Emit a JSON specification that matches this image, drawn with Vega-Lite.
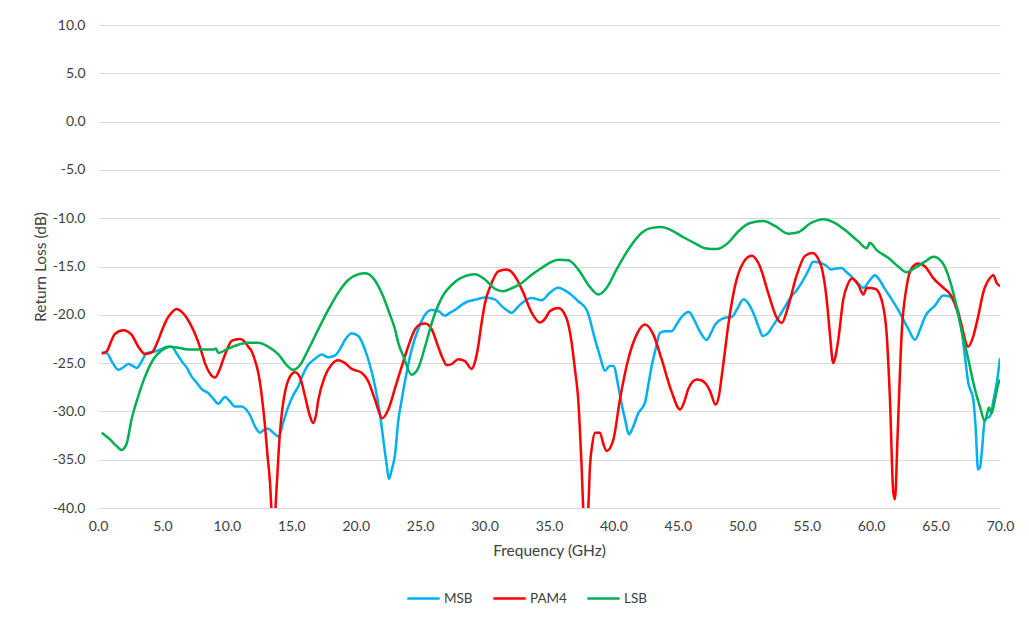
{
  "$schema": "https://vega.github.io/schema/vega-lite/v6.json",
  "width": 902,
  "height": 483,
  "autosize": {"type": "none"},
  "padding": {"left": 98, "top": 25, "right": 29, "bottom": 110},
  "background": "white",
  "config": {
    "view": {"stroke": null},
    "font": "Lato",
    "axis": {"labelFont": "Lato", "titleFont": "Lato", "labelColor": "#404040", "titleColor": "#404040", "titleFontWeight": "normal", "labelFlush": false},
    "legend": {"labelFont": "Lato", "labelColor": "#404040"}
  },
  "datasets": {
    "MSB": [{"f":0.3,"rl":-23.9},{"f":0.7,"rl":-24.0},{"f":1.1,"rl":-24.9},{"f":1.58,"rl":-25.7},{"f":2.0,"rl":-25.4},{"f":2.35,"rl":-25.1},{"f":2.7,"rl":-25.3},{"f":3.0,"rl":-25.5},{"f":3.4,"rl":-24.8},{"f":3.78,"rl":-23.95},{"f":4.42,"rl":-23.8},{"f":5.0,"rl":-23.5},{"f":5.33,"rl":-23.3},{"f":5.72,"rl":-23.3},{"f":6.1,"rl":-24.0},{"f":6.5,"rl":-24.8},{"f":6.9,"rl":-25.5},{"f":7.27,"rl":-26.4},{"f":7.7,"rl":-27.1},{"f":8.05,"rl":-27.7},{"f":8.56,"rl":-28.1},{"f":8.95,"rl":-28.7},{"f":9.34,"rl":-29.2},{"f":9.86,"rl":-28.5},{"f":10.2,"rl":-28.9},{"f":10.63,"rl":-29.5},{"f":11.15,"rl":-29.5},{"f":11.5,"rl":-29.8},{"f":11.8,"rl":-30.4},{"f":12.2,"rl":-31.6},{"f":12.57,"rl":-32.2},{"f":12.9,"rl":-31.9},{"f":13.2,"rl":-31.8},{"f":13.6,"rl":-32.2},{"f":14.0,"rl":-32.6},{"f":14.4,"rl":-31.0},{"f":14.77,"rl":-29.5},{"f":15.16,"rl":-28.3},{"f":15.55,"rl":-27.4},{"f":15.9,"rl":-26.2},{"f":16.3,"rl":-25.2},{"f":16.8,"rl":-24.6},{"f":17.36,"rl":-24.1},{"f":17.87,"rl":-24.4},{"f":18.4,"rl":-24.2},{"f":18.8,"rl":-23.5},{"f":19.17,"rl":-22.6},{"f":19.69,"rl":-21.9},{"f":20.2,"rl":-22.2},{"f":20.72,"rl":-23.6},{"f":21.1,"rl":-25.2},{"f":21.5,"rl":-27.4},{"f":21.85,"rl":-30.0},{"f":22.14,"rl":-32.9},{"f":22.4,"rl":-35.5},{"f":22.58,"rl":-37.0},{"f":22.8,"rl":-36.0},{"f":23.05,"rl":-34.5},{"f":23.3,"rl":-31.0},{"f":23.57,"rl":-28.8},{"f":23.95,"rl":-26.0},{"f":24.34,"rl":-23.6},{"f":24.85,"rl":-21.5},{"f":25.38,"rl":-20.0},{"f":25.9,"rl":-19.5},{"f":26.4,"rl":-19.6},{"f":26.93,"rl":-20.1},{"f":27.3,"rl":-19.8},{"f":27.7,"rl":-19.5},{"f":28.2,"rl":-19.0},{"f":28.74,"rl":-18.6},{"f":29.4,"rl":-18.4},{"f":30.03,"rl":-18.2},{"f":30.8,"rl":-18.4},{"f":31.33,"rl":-19.1},{"f":31.7,"rl":-19.5},{"f":32.1,"rl":-19.8},{"f":32.5,"rl":-19.3},{"f":32.88,"rl":-18.8},{"f":33.66,"rl":-18.25},{"f":34.43,"rl":-18.5},{"f":35.08,"rl":-17.7},{"f":35.7,"rl":-17.2},{"f":36.5,"rl":-17.7},{"f":37.27,"rl":-18.6},{"f":37.93,"rl":-19.5},{"f":38.2,"rl":-20.6},{"f":38.44,"rl":-21.9},{"f":38.96,"rl":-24.3},{"f":39.35,"rl":-25.8},{"f":39.7,"rl":-25.3},{"f":40.0,"rl":-25.3},{"f":40.38,"rl":-27.4},{"f":40.65,"rl":-29.3},{"f":40.9,"rl":-30.8},{"f":41.2,"rl":-32.4},{"f":41.5,"rl":-31.7},{"f":41.93,"rl":-30.2},{"f":42.45,"rl":-29.1},{"f":42.7,"rl":-27.3},{"f":42.97,"rl":-25.3},{"f":43.3,"rl":-23.4},{"f":43.6,"rl":-21.9},{"f":44.0,"rl":-21.7},{"f":44.5,"rl":-21.7},{"f":44.9,"rl":-21.0},{"f":45.3,"rl":-20.2},{"f":45.86,"rl":-19.7},{"f":46.3,"rl":-20.6},{"f":46.7,"rl":-21.7},{"f":47.24,"rl":-22.6},{"f":47.6,"rl":-21.8},{"f":47.9,"rl":-21.0},{"f":48.66,"rl":-20.3},{"f":49.2,"rl":-20.2},{"f":49.6,"rl":-19.4},{"f":50.1,"rl":-18.4},{"f":50.6,"rl":-19.1},{"f":50.95,"rl":-20.1},{"f":51.25,"rl":-21.2},{"f":51.6,"rl":-22.2},{"f":52.0,"rl":-21.9},{"f":52.4,"rl":-21.1},{"f":52.8,"rl":-20.3},{"f":53.3,"rl":-19.2},{"f":53.8,"rl":-18.1},{"f":54.2,"rl":-17.5},{"f":54.6,"rl":-16.7},{"f":55.1,"rl":-15.5},{"f":55.5,"rl":-14.5},{"f":56.0,"rl":-14.6},{"f":56.5,"rl":-14.9},{"f":56.9,"rl":-15.3},{"f":57.3,"rl":-15.2},{"f":57.7,"rl":-15.15},{"f":58.1,"rl":-15.6},{"f":58.36,"rl":-15.9},{"f":58.75,"rl":-16.4},{"f":59.4,"rl":-17.2},{"f":59.85,"rl":-16.5},{"f":60.3,"rl":-15.9},{"f":60.7,"rl":-16.5},{"f":61.1,"rl":-17.4},{"f":61.6,"rl":-18.4},{"f":62.1,"rl":-19.5},{"f":62.5,"rl":-20.5},{"f":62.9,"rl":-21.5},{"f":63.4,"rl":-22.6},{"f":63.8,"rl":-21.5},{"f":64.18,"rl":-20.2},{"f":64.95,"rl":-19.05},{"f":65.6,"rl":-18.0},{"f":66.1,"rl":-18.1},{"f":66.5,"rl":-18.8},{"f":66.8,"rl":-19.8},{"f":67.15,"rl":-22.9},{"f":67.54,"rl":-27.05},{"f":67.93,"rl":-28.8},{"f":68.1,"rl":-31.5},{"f":68.3,"rl":-36.0},{"f":68.45,"rl":-35.8},{"f":68.58,"rl":-34.3},{"f":68.83,"rl":-30.85},{"f":69.22,"rl":-30.5},{"f":69.5,"rl":-28.8},{"f":69.82,"rl":-26.4},{"f":70.0,"rl":-24.5}],
    "PAM4": [{"f":0.29,"rl":-24.0},{"f":0.67,"rl":-23.8},{"f":1.0,"rl":-22.8},{"f":1.3,"rl":-22.0},{"f":1.97,"rl":-21.6},{"f":2.6,"rl":-22.05},{"f":3.13,"rl":-23.3},{"f":3.65,"rl":-24.05},{"f":4.17,"rl":-23.9},{"f":4.68,"rl":-22.6},{"f":5.0,"rl":-21.5},{"f":5.33,"rl":-20.5},{"f":5.7,"rl":-19.8},{"f":6.1,"rl":-19.4},{"f":6.5,"rl":-19.7},{"f":6.88,"rl":-20.3},{"f":7.3,"rl":-21.3},{"f":7.66,"rl":-22.4},{"f":8.0,"rl":-23.7},{"f":8.3,"rl":-25.0},{"f":8.7,"rl":-26.1},{"f":9.08,"rl":-26.5},{"f":9.4,"rl":-25.8},{"f":9.72,"rl":-24.6},{"f":10.05,"rl":-23.5},{"f":10.37,"rl":-22.7},{"f":11.0,"rl":-22.5},{"f":11.4,"rl":-22.8},{"f":11.66,"rl":-23.3},{"f":11.93,"rl":-23.8},{"f":12.2,"rl":-24.8},{"f":12.44,"rl":-26.0},{"f":12.7,"rl":-28.3},{"f":12.96,"rl":-31.5},{"f":13.15,"rl":-34.5},{"f":13.35,"rl":-37.4},{"f":13.5,"rl":-41.0},{"f":13.65,"rl":-42.0},{"f":13.75,"rl":-40.5},{"f":13.87,"rl":-37.7},{"f":14.12,"rl":-32.2},{"f":14.3,"rl":-29.8},{"f":14.5,"rl":-28.1},{"f":14.9,"rl":-26.4},{"f":15.3,"rl":-25.95},{"f":15.68,"rl":-26.5},{"f":16.06,"rl":-28.4},{"f":16.45,"rl":-30.5},{"f":16.7,"rl":-31.2},{"f":16.9,"rl":-30.5},{"f":17.1,"rl":-28.8},{"f":17.6,"rl":-26.4},{"f":18.1,"rl":-25.2},{"f":18.65,"rl":-24.7},{"f":19.17,"rl":-25.0},{"f":19.69,"rl":-25.6},{"f":20.46,"rl":-26.0},{"f":20.98,"rl":-26.9},{"f":21.5,"rl":-28.8},{"f":22.06,"rl":-30.7},{"f":22.53,"rl":-29.8},{"f":23.05,"rl":-27.6},{"f":23.44,"rl":-25.9},{"f":23.82,"rl":-24.3},{"f":24.2,"rl":-22.8},{"f":24.6,"rl":-21.5},{"f":25.0,"rl":-21.0},{"f":25.38,"rl":-20.9},{"f":25.9,"rl":-21.5},{"f":26.4,"rl":-23.3},{"f":26.75,"rl":-24.5},{"f":27.06,"rl":-25.2},{"f":27.45,"rl":-25.1},{"f":27.96,"rl":-24.6},{"f":28.48,"rl":-24.8},{"f":29.0,"rl":-25.6},{"f":29.25,"rl":-24.9},{"f":29.5,"rl":-23.3},{"f":29.75,"rl":-21.0},{"f":30.03,"rl":-18.8},{"f":30.55,"rl":-16.7},{"f":31.06,"rl":-15.5},{"f":31.7,"rl":-15.3},{"f":32.36,"rl":-16.0},{"f":33.0,"rl":-17.7},{"f":33.66,"rl":-19.8},{"f":34.3,"rl":-20.8},{"f":34.7,"rl":-20.4},{"f":35.08,"rl":-19.6},{"f":35.72,"rl":-19.3},{"f":36.24,"rl":-20.0},{"f":36.5,"rl":-21.0},{"f":36.76,"rl":-22.9},{"f":37.0,"rl":-25.5},{"f":37.27,"rl":-28.8},{"f":37.53,"rl":-35.7},{"f":37.7,"rl":-41.0},{"f":37.9,"rl":-42.0},{"f":38.05,"rl":-40.0},{"f":38.18,"rl":-35.7},{"f":38.35,"rl":-33.5},{"f":38.57,"rl":-32.2},{"f":38.96,"rl":-32.2},{"f":39.2,"rl":-33.3},{"f":39.48,"rl":-34.1},{"f":40.0,"rl":-32.9},{"f":40.5,"rl":-28.8},{"f":41.15,"rl":-24.6},{"f":41.8,"rl":-22.05},{"f":42.45,"rl":-21.0},{"f":43.1,"rl":-22.05},{"f":43.74,"rl":-24.6},{"f":44.5,"rl":-27.9},{"f":45.17,"rl":-29.8},{"f":45.5,"rl":-29.0},{"f":45.8,"rl":-27.7},{"f":46.46,"rl":-26.7},{"f":46.85,"rl":-26.8},{"f":47.2,"rl":-27.2},{"f":47.5,"rl":-27.9},{"f":47.93,"rl":-29.3},{"f":48.2,"rl":-28.3},{"f":48.4,"rl":-26.4},{"f":48.65,"rl":-23.8},{"f":48.9,"rl":-21.2},{"f":49.43,"rl":-17.05},{"f":50.08,"rl":-14.6},{"f":50.73,"rl":-13.9},{"f":51.37,"rl":-15.0},{"f":52.0,"rl":-17.7},{"f":52.67,"rl":-20.3},{"f":53.06,"rl":-20.85},{"f":53.57,"rl":-19.1},{"f":54.2,"rl":-16.0},{"f":54.87,"rl":-13.9},{"f":55.44,"rl":-13.6},{"f":56.03,"rl":-14.6},{"f":56.3,"rl":-16.0},{"f":56.55,"rl":-18.4},{"f":56.8,"rl":-22.0},{"f":57.06,"rl":-25.0},{"f":57.25,"rl":-24.2},{"f":57.45,"rl":-22.6},{"f":57.84,"rl":-18.4},{"f":58.2,"rl":-16.8},{"f":58.5,"rl":-16.25},{"f":59.0,"rl":-16.9},{"f":59.4,"rl":-17.9},{"f":59.66,"rl":-17.2},{"f":60.3,"rl":-17.3},{"f":60.8,"rl":-18.4},{"f":61.2,"rl":-21.9},{"f":61.46,"rl":-28.8},{"f":61.72,"rl":-38.4},{"f":61.85,"rl":-39.1},{"f":62.06,"rl":-32.2},{"f":62.37,"rl":-21.9},{"f":62.76,"rl":-17.05},{"f":63.15,"rl":-15.15},{"f":63.66,"rl":-14.7},{"f":64.18,"rl":-15.0},{"f":64.82,"rl":-16.2},{"f":65.6,"rl":-17.2},{"f":66.25,"rl":-18.1},{"f":66.9,"rl":-20.5},{"f":67.54,"rl":-23.3},{"f":67.93,"rl":-22.2},{"f":68.3,"rl":-20.2},{"f":68.7,"rl":-17.7},{"f":69.22,"rl":-16.2},{"f":69.48,"rl":-15.9},{"f":69.74,"rl":-16.7},{"f":70.0,"rl":-17.05}],
    "LSB": [{"f":0.29,"rl":-32.2},{"f":0.93,"rl":-32.9},{"f":1.45,"rl":-33.6},{"f":1.84,"rl":-34.0},{"f":2.23,"rl":-33.3},{"f":2.6,"rl":-30.85},{"f":3.13,"rl":-28.4},{"f":3.65,"rl":-26.4},{"f":4.3,"rl":-24.6},{"f":4.94,"rl":-23.7},{"f":5.59,"rl":-23.3},{"f":6.23,"rl":-23.4},{"f":7.0,"rl":-23.6},{"f":8.05,"rl":-23.6},{"f":8.95,"rl":-23.6},{"f":9.15,"rl":-23.5},{"f":9.34,"rl":-23.95},{"f":10.1,"rl":-23.5},{"f":11.15,"rl":-23.0},{"f":11.66,"rl":-22.9},{"f":12.44,"rl":-22.9},{"f":13.2,"rl":-23.3},{"f":14.0,"rl":-24.1},{"f":14.64,"rl":-25.2},{"f":15.16,"rl":-25.7},{"f":15.68,"rl":-25.2},{"f":16.32,"rl":-23.6},{"f":17.1,"rl":-21.5},{"f":17.87,"rl":-19.5},{"f":18.65,"rl":-17.7},{"f":19.42,"rl":-16.4},{"f":20.2,"rl":-15.8},{"f":20.72,"rl":-15.7},{"f":21.36,"rl":-16.2},{"f":22.0,"rl":-17.7},{"f":22.66,"rl":-20.0},{"f":23.05,"rl":-21.5},{"f":23.3,"rl":-22.9},{"f":23.7,"rl":-24.3},{"f":24.34,"rl":-26.2},{"f":24.86,"rl":-25.5},{"f":25.38,"rl":-23.3},{"f":25.9,"rl":-20.85},{"f":26.67,"rl":-18.25},{"f":27.7,"rl":-16.6},{"f":28.48,"rl":-16.0},{"f":29.26,"rl":-15.8},{"f":30.03,"rl":-16.35},{"f":30.8,"rl":-17.3},{"f":31.45,"rl":-17.55},{"f":32.2,"rl":-17.2},{"f":32.88,"rl":-16.7},{"f":33.66,"rl":-15.85},{"f":34.43,"rl":-15.15},{"f":35.08,"rl":-14.6},{"f":35.72,"rl":-14.3},{"f":36.5,"rl":-14.35},{"f":37.27,"rl":-15.3},{"f":38.05,"rl":-16.9},{"f":38.83,"rl":-17.9},{"f":39.48,"rl":-17.2},{"f":40.25,"rl":-15.3},{"f":41.15,"rl":-13.25},{"f":42.2,"rl":-11.5},{"f":42.97,"rl":-11.0},{"f":43.74,"rl":-10.9},{"f":44.5,"rl":-11.25},{"f":45.54,"rl":-12.05},{"f":46.33,"rl":-12.6},{"f":47.1,"rl":-13.1},{"f":48.0,"rl":-13.2},{"f":48.9,"rl":-12.55},{"f":49.7,"rl":-11.35},{"f":50.6,"rl":-10.5},{"f":51.63,"rl":-10.3},{"f":52.54,"rl":-10.8},{"f":53.57,"rl":-11.6},{"f":54.35,"rl":-11.45},{"f":55.26,"rl":-10.55},{"f":56.3,"rl":-10.1},{"f":57.2,"rl":-10.5},{"f":58.0,"rl":-11.25},{"f":59.0,"rl":-12.4},{"f":59.66,"rl":-13.1},{"f":59.9,"rl":-12.55},{"f":60.43,"rl":-13.3},{"f":61.33,"rl":-14.1},{"f":62.1,"rl":-15.0},{"f":62.76,"rl":-15.6},{"f":63.4,"rl":-15.15},{"f":64.18,"rl":-14.5},{"f":64.82,"rl":-14.0},{"f":65.47,"rl":-14.5},{"f":66.0,"rl":-16.0},{"f":66.5,"rl":-18.4},{"f":67.0,"rl":-21.5},{"f":67.54,"rl":-24.6},{"f":68.05,"rl":-27.7},{"f":68.44,"rl":-29.5},{"f":68.83,"rl":-31.0},{"f":69.14,"rl":-29.6},{"f":69.35,"rl":-30.2},{"f":69.6,"rl":-28.8},{"f":69.82,"rl":-27.4},{"f":70.0,"rl":-26.7}]
  },
  "encoding": {
    "x": {
      "field": "f", "type": "quantitative",
      "scale": {"domain": [0, 70], "nice": false, "zero": false},
      "axis": {
        "title": "Frequency (GHz)", "values": [0,5,10,15,20,25,30,35,40,45,50,55,60,65,70],
        "format": ".1f", "grid": false, "ticks": false, "domain": false,
        "labelFontSize": 14, "labelPadding": 11, "titleFontSize": 15.5, "titlePadding": 10
      }
    },
    "y": {
      "field": "rl", "type": "quantitative",
      "scale": {"domain": [-40, 10], "nice": false, "zero": false},
      "axis": {
        "title": "Return Loss (dB)", "values": [-40,-35,-30,-25,-20,-15,-10,-5,0,5,10],
        "labelExpr": "replace(format(datum.value, '.1f'), '\u2212', '-')",
        "grid": true, "gridColor": "#D9D9D9", "gridWidth": 1, "ticks": false, "domain": false,
        "labelFontSize": 14, "labelPadding": 13, "titleFontSize": 15.5, "titlePadding": 4
      }
    },
    "color": {
      "type": "nominal",
      "scale": {"domain": ["MSB", "PAM4", "LSB"], "range": ["#00B0F0", "#FF0000", "#00B050"]},
      "legend": {
        "title": null, "orient": "none", "legendX": 308, "legendY": 556, "direction": "horizontal",
        "symbolType": "stroke", "symbolSize": 1050, "symbolStrokeWidth": 2.5,
        "labelFontSize": 13.5, "labelOffset": 3, "columnPadding": 15, "gridAlign": "none"
      }
    }
  },
  "layer": [
    {"data": {"name": "MSB"}, "mark": {"type": "line", "strokeWidth": 2.5, "interpolate": "monotone", "clip": true}, "encoding": {"color": {"datum": "MSB"}}},
    {"data": {"name": "PAM4"}, "mark": {"type": "line", "strokeWidth": 2.5, "interpolate": "monotone", "clip": true}, "encoding": {"color": {"datum": "PAM4"}}},
    {"data": {"name": "LSB"}, "mark": {"type": "line", "strokeWidth": 2.5, "interpolate": "monotone", "clip": true}, "encoding": {"color": {"datum": "LSB"}}}
  ]
}
